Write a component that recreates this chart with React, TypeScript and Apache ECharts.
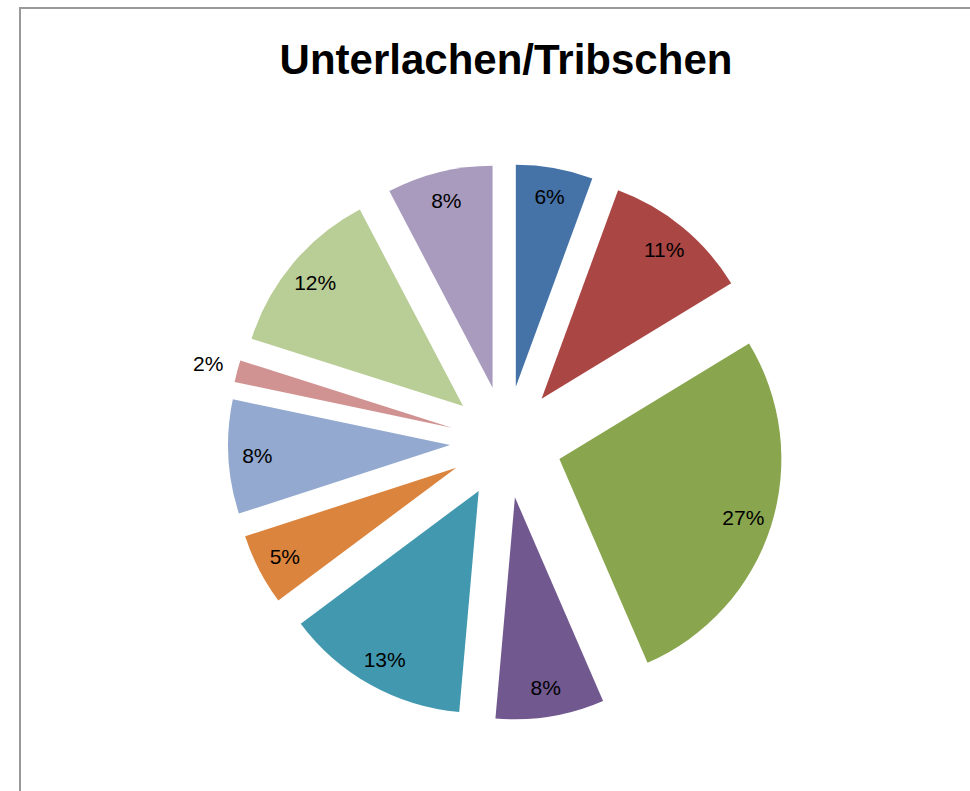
import React, { useEffect, useRef } from "react";
import * as echarts from "echarts";

const titleText = "Unterlachen/Tribschen";
const sliceNames = ["A", "B", "C", "D", "E", "F", "G", "H", "I", "J"];
const sliceValues = [5.6, 10.7, 27.2, 7.9, 13.4, 5.2, 8.3, 1.6, 12.4, 7.7];
const sliceColors = [
  "#4572A7",
  "#AA4643",
  "#89A54E",
  "#71588F",
  "#4198AF",
  "#DB843D",
  "#93A9CF",
  "#D19392",
  "#B9CD96",
  "#A99BBD",
];
const outsideLabelIndex = [7];

export default function App() {
  const ref = useRef<HTMLDivElement>(null);
  useEffect(() => {
    if (!ref.current) return;
    const chart = echarts.init(ref.current, undefined, { renderer: "svg" });
    const center = [506, 442];
    const offset = 56;
    const labelFont = {
      fontFamily: "'Liberation Sans', Arial, sans-serif",
      fontSize: 21,
      color: "#000",
    };
    const fmt = (p: any) => Math.round(p.value) + "%";
    const base = {
      type: "pie",
      center,
      startAngle: 90,
      clockwise: true,
      selectedMode: "multiple",
      selectedOffset: offset,
      avoidLabelOverlap: false,
      labelLine: { show: false },
      emphasis: { disabled: true },
      animation: false,
    };
    const mainData = sliceValues.map((v, i) => ({
      name: sliceNames[i],
      value: v,
      selected: true,
      itemStyle: { color: sliceColors[i] },
    }));
    const insideData = sliceValues.map((v, i) => ({
      name: sliceNames[i],
      value: v,
      selected: true,
      itemStyle: { color: "rgba(0,0,0,0)" },
      label: { show: !outsideLabelIndex.includes(i) },
    }));
    const outsideData = sliceValues.map((v, i) => ({
      name: sliceNames[i],
      value: v,
      selected: true,
      itemStyle: { color: "rgba(0,0,0,0)" },
      label: { show: outsideLabelIndex.includes(i) },
    }));
    chart.setOption({
      animation: false,
      backgroundColor: "#fff",
      title: {
        text: titleText,
        left: 506,
        top: 38,
        textAlign: "center",
        padding: 0,
        textStyle: {
          fontFamily: "'Liberation Sans', Arial, sans-serif",
          fontWeight: "bold",
          fontSize: 42,
          color: "#000",
        },
      },
      graphic: [
        {
          type: "rect",
          shape: { x: 20, y: 8, width: 1200, height: 1200 },
          style: { fill: "none", stroke: "#999", lineWidth: 2 },
          silent: true,
        },
      ],
      series: [
        {
          ...base,
          radius: [0, 222],
          label: { show: false },
          data: mainData,
        },
        {
          ...base,
          radius: [158, 222],
          silent: true,
          label: { position: "inside", formatter: fmt, ...labelFont },
          data: insideData,
        },
        {
          ...base,
          radius: [238, 260],
          silent: true,
          label: { position: "inside", formatter: fmt, ...labelFont },
          data: outsideData,
        },
      ],
    });
    return () => chart.dispose();
  }, []);
  return (
    <div
      ref={ref}
      style={{ position: "absolute", left: 0, top: 0, width: 970, height: 791 }}
    />
  );
}
